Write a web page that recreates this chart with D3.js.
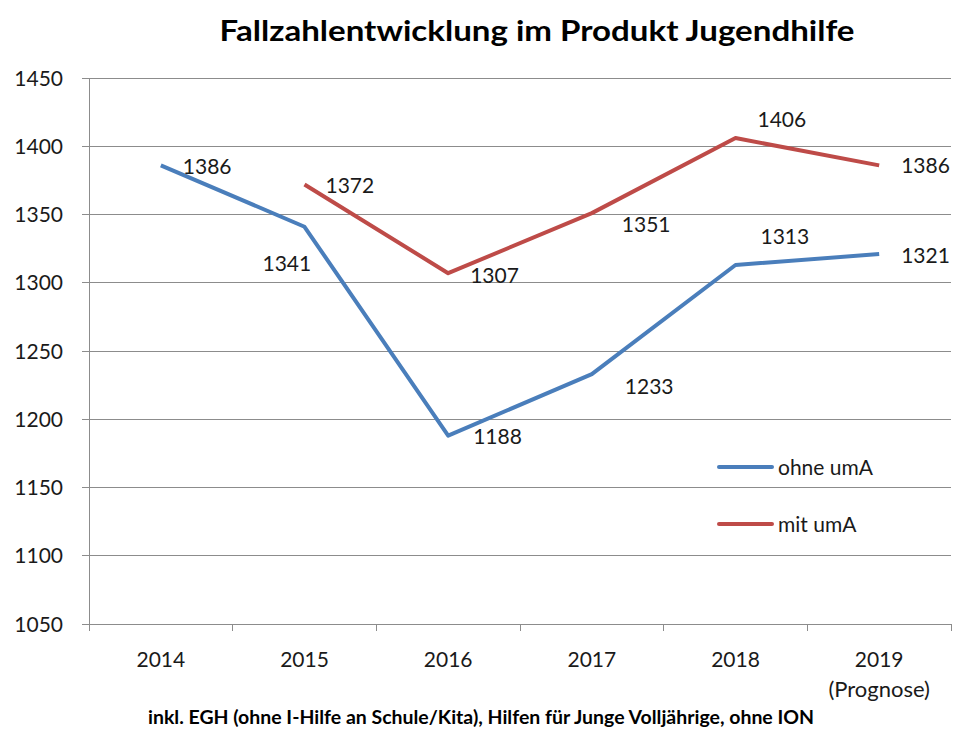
<!DOCTYPE html>
<html>
<head>
<meta charset="utf-8">
<script src="https://cdn.jsdelivr.net/npm/d3@7"></script>
<style>
  body { margin: 0; background: #fff; }
  svg text { font-family: Lato, "Open Sans", sans-serif; fill: #1a1a1a; }
</style>
</head>
<body>
<svg width="956" height="729"></svg>
<script>
const years = ["2014", "2015", "2016", "2017", "2018", "2019"];
const ohneUmA = [1386, 1341, 1188, 1233, 1313, 1321];
const mitUmA = [null, 1372, 1307, 1351, 1406, 1386];
const yTicks = [1050, 1100, 1150, 1200, 1250, 1300, 1350, 1400, 1450];

// label offsets (dx, dy) from each point, like Excel's manual label placement
const ohneLabelPos = [[22, 1], [-42, 37], [25, 1], [33, 12], [25, -29], [22, 1]];
const mitLabelPos = [null, [21, 1], [22, 2], [30, 11], [22, -19], [22, 0]];

const margin = { top: 78, right: 5, bottom: 105, left: 89 };
const width = 956 - margin.left - margin.right;
const height = 729 - margin.top - margin.bottom;

const svg = d3.select("svg")
  .append("g")
  .attr("transform", `translate(${margin.left},${margin.top})`);

const x = d3.scaleBand()
  .domain(years)
  .range([0, width]);

const y = d3.scaleLinear()
  .domain([1050, 1450])
  .range([height, 0]);

// horizontal gridlines
svg.selectAll(".grid-y")
  .data(yTicks)
  .enter().append("line")
  .attr("x1", -7)
  .attr("x2", width)
  .attr("y1", d => y(d))
  .attr("y2", d => y(d))
  .style("stroke", "#8c8c8c")
  .style("stroke-width", 1)
  .style("shape-rendering", "crispEdges");

// y axis
svg.append("line")
  .attr("x1", 0).attr("x2", 0)
  .attr("y1", 0).attr("y2", height + 7)
  .style("stroke", "#8c8c8c")
  .style("shape-rendering", "crispEdges");

svg.selectAll(".ylab")
  .data(yTicks)
  .enter().append("text")
  .attr("x", -26)
  .attr("y", d => y(d))
  .attr("dy", "0.36em")
  .attr("text-anchor", "end")
  .style("font-size", "21px")
  .text(d => d);

// x axis ticks between categories
svg.selectAll(".xtick")
  .data(years.slice(1).concat(["end"]))
  .enter().append("line")
  .attr("x1", (d, i) => x.step() * (i + 1))
  .attr("x2", (d, i) => x.step() * (i + 1))
  .attr("y1", height)
  .attr("y2", height + 7)
  .style("stroke", "#8c8c8c")
  .style("shape-rendering", "crispEdges");

svg.selectAll(".xlab")
  .data(years)
  .enter().append("text")
  .attr("x", d => x(d) + x.bandwidth() / 2)
  .attr("y", height + 43)
  .attr("text-anchor", "middle")
  .style("font-size", "21px")
  .text(d => d);

svg.append("text")
  .attr("x", x("2019") + x.bandwidth() / 2)
  .attr("y", height + 73)
  .attr("text-anchor", "middle")
  .style("font-size", "22px")
  .text("(Prognose)");

const line = d3.line()
  .defined(d => d != null)
  .x((d, i) => x(years[i]) + x.bandwidth() / 2)
  .y(d => y(d));

const series = [
  { name: "ohne umA", values: ohneUmA, color: "#4a7ebb", labels: ohneLabelPos },
  { name: "mit umA", values: mitUmA, color: "#be4b48", labels: mitLabelPos }
];

series.forEach(s => {
  svg.append("path")
    .datum(s.values)
    .attr("fill", "none")
    .attr("stroke", s.color)
    .attr("stroke-width", 4)
    .attr("stroke-linejoin", "round")
    .attr("d", line);

  svg.selectAll(null)
    .data(s.values.map((v, i) => ({ v, i })).filter(d => d.v != null))
    .enter().append("text")
    .attr("x", d => x(years[d.i]) + x.bandwidth() / 2 + s.labels[d.i][0])
    .attr("y", d => y(d.v) + s.labels[d.i][1])
    .attr("dy", "0.36em")
    .style("font-size", "21px")
    .text(d => d.v);
});

// legend
const legend = svg.append("g")
  .attr("transform", `translate(${630},${389})`);

series.forEach((s, i) => {
  const g = legend.append("g").attr("transform", `translate(0,${i * 57})`);
  g.append("line")
    .attr("x1", 0).attr("x2", 53)
    .attr("y1", 0).attr("y2", 0)
    .attr("stroke", s.color)
    .attr("stroke-width", 4)
    .attr("stroke-linecap", "round");
  g.append("text")
    .attr("x", 59)
    .attr("y", 0)
    .attr("dy", "0.36em")
    .style("font-size", "21px")
    .text(s.name);
});

// title and footnote
d3.select("svg").append("text")
  .attr("x", 537)
  .attr("y", 41)
  .attr("text-anchor", "middle")
  .attr("textLength", 635)
  .attr("lengthAdjust", "spacingAndGlyphs")
  .style("font-size", "28px")
  .style("font-weight", "bold")
  .style("fill", "#000")
  .text("Fallzahlentwicklung im Produkt Jugendhilfe");

d3.select("svg").append("text")
  .attr("x", 481)
  .attr("y", 724)
  .attr("text-anchor", "middle")
  .attr("textLength", 666)
  .attr("lengthAdjust", "spacingAndGlyphs")
  .style("font-size", "18px")
  .style("font-weight", "bold")
  .style("fill", "#000")
  .text("inkl. EGH (ohne I-Hilfe an Schule/Kita), Hilfen für Junge Volljährige, ohne ION");
</script>
</body>
</html>
